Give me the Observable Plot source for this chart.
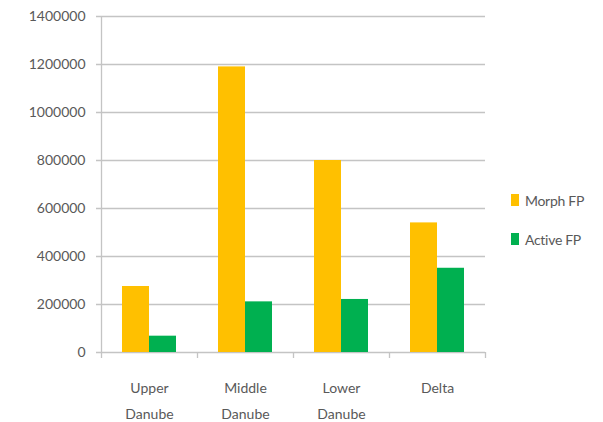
<!DOCTYPE html>
<html>
<head>
<meta charset="utf-8">
<script src="https://cdn.jsdelivr.net/npm/d3@7"></script>
<script src="https://cdn.jsdelivr.net/npm/@observablehq/plot@0.6"></script>
<style>
  html, body { margin: 0; padding: 0; background: #fff; }
  #wrap { position: relative; width: 603px; height: 422px; font-family: Lato, "Open Sans", sans-serif; }
  #legend { position: absolute; left: 511px; top: 190px; font-size: 14px; color: #595959; letter-spacing: -0.3px; }
  .item { display: flex; align-items: center; height: 20px; margin-bottom: 19px; }
  .sw { width: 8px; height: 12px; margin-right: 6px; }
</style>
</head>
<body>
<div id="wrap"></div>
<script>
const regions = ["Upper\nDanube", "Middle\nDanube", "Lower\nDanube", "Delta"];
const seriesNames = ["Morph FP", "Active FP"];
const morphFP = [275000, 1190000, 800000, 540000];
const activeFP = [68000, 211000, 221000, 351000];
const yTicks = [0, 200000, 400000, 600000, 800000, 1000000, 1200000, 1400000];
const colors = ["#FFC000", "#00B050"];

const width = 603, height = 422;
const ml = 101, mr = 118, mt = 16, mb = 70;
const bw = (width - ml - mr) / regions.length;
const barW = 27, outer = (bw - 2 * barW) / 2;

const morphRows = regions.map((r, i) => ({region: r, value: morphFP[i]}));
const activeRows = regions.map((r, i) => ({region: r, value: activeFP[i]}));
const grid = "#c4c4c4";
const textColor = "#595959";

const chart = Plot.plot({
  width, height,
  marginLeft: ml, marginRight: mr, marginTop: mt, marginBottom: mb,
  style: {fontFamily: "Lato, 'Open Sans', sans-serif", fontSize: "14px", color: textColor, background: "#fff"},
  x: {domain: regions, padding: 0, axis: null, label: null},
  y: {domain: [0, 1400000], axis: null, label: null},
  marks: [
    Plot.ruleY(yTicks, {stroke: grid, strokeWidth: 1.3, insetLeft: -5}),
    Plot.ruleX([regions[0]], {y1: 1400000, y2: 0, insetBottom: -6, dx: -bw / 2, stroke: grid, strokeWidth: 1.3}),
    Plot.ruleX(regions.slice(1), {y1: 0, y2: 0, insetBottom: -6, dx: -bw / 2, stroke: grid, strokeWidth: 1.3}),
    Plot.ruleX([regions[regions.length - 1]], {y1: 0, y2: 0, insetBottom: -6, dx: bw / 2, stroke: grid, strokeWidth: 1.3}),
    Plot.barY(morphRows, {x: "region", y: "value", fill: colors[0], insetLeft: outer, insetRight: outer + barW}),
    Plot.barY(activeRows, {x: "region", y: "value", fill: colors[1], insetLeft: outer + barW, insetRight: outer}),
    Plot.axisY(yTicks, {label: null, tickSize: 0, tickPadding: 16, tickFormat: d3.format("d"), fill: textColor, letterSpacing: "-0.5px"}),
    Plot.axisX({label: null, tickSize: 0, tickPadding: 22, lineHeight: 1.85, fill: textColor, tickFormat: d => d})
  ]
});

const wrap = document.getElementById("wrap");
wrap.appendChild(chart);
const legend = document.createElement("div");
legend.id = "legend";
seriesNames.forEach((name, i) => {
  const item = document.createElement("div");
  item.className = "item";
  const sw = document.createElement("div");
  sw.className = "sw";
  sw.style.background = colors[i];
  const label = document.createElement("span");
  label.textContent = name;
  item.appendChild(sw);
  item.appendChild(label);
  legend.appendChild(item);
});
wrap.appendChild(legend);
</script>
</body>
</html>
